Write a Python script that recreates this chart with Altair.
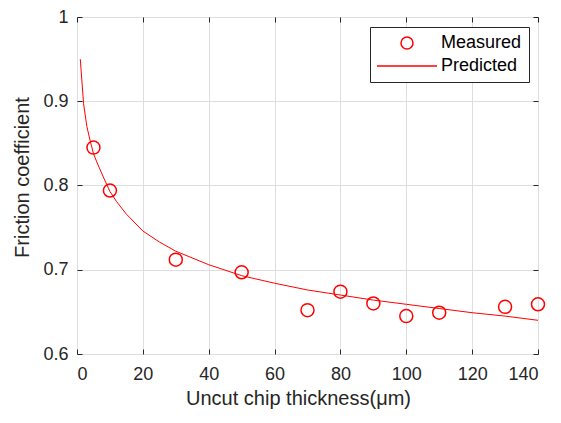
import altair as alt
import pandas as pd

meas_x = [5, 10, 30, 50, 70, 80, 90, 100, 110, 130, 140]
meas_y = [0.845, 0.794, 0.712, 0.697, 0.652, 0.674, 0.660, 0.645, 0.649, 0.656, 0.659]

pred_x = [1, 2, 3, 4, 5, 6, 8, 10, 12, 15, 20, 25, 30, 40, 50, 60, 70, 80, 90, 100, 110, 120, 130, 140]
pred_y = [0.950, 0.897, 0.870, 0.853, 0.838, 0.828, 0.810, 0.793, 0.781, 0.766, 0.746, 0.733,
          0.722, 0.706, 0.693, 0.684, 0.676, 0.670, 0.664, 0.659, 0.654, 0.649, 0.645, 0.640]

x_ticks = [0, 20, 40, 60, 80, 100, 120, 140]
y_ticks = [0.6, 0.7, 0.8, 0.9, 1.0]

meas = pd.DataFrame({"x": meas_x, "y": meas_y, "series": "Measured"})
pred = pd.DataFrame({"x": pred_x, "y": pred_y, "series": "Predicted"})

W, H = 461, 337
PL, PT, PR, PB = 69, 9, 15, 56
FONT = "Liberation Sans"
TXT = "#262626"

xs = alt.Scale(domain=[0, 140], nice=False, zero=False)
ys = alt.Scale(domain=[0.6, 1.0], nice=False, zero=False)

def tick_axis(orient, offset, values):
    return alt.Axis(orient=orient, offset=offset, values=values, labels=False, title=None,
                    domain=False, grid=False, ticks=True, tickSize=5, tickColor=TXT, tickWidth=1)

points = alt.Chart(meas).mark_point(shape="circle", filled=False, size=169, strokeWidth=1.5,
                                    color="#ff0000", opacity=1).encode(
    x=alt.X("x:Q", scale=xs, axis=alt.Axis(values=x_ticks, title="Uncut chip thickness(μm)",
                                           ticks=False, domain=False, grid=True, gridColor="#dedede",
                                           labelFontSize=18, titleFontSize=20, labelColor=TXT,
                                           titleColor=TXT, labelPadding=11, titlePadding=5,
                                           titleX=221, titleAlign="center",
                                           labelFont=FONT, titleFont=FONT, titleFontWeight="normal")),
    y=alt.Y("y:Q", scale=ys, axis=alt.Axis(values=y_ticks, format=".1~f", title="Friction coefficient",
                                           ticks=False, domain=False, grid=True, gridColor="#dedede",
                                           labelFontSize=18, titleFontSize=20, labelColor=TXT,
                                           titleColor=TXT, labelPadding=9, titlePadding=10,
                                           titleY=160, titleAlign="center",
                                           labelFont=FONT, titleFont=FONT, titleFontWeight="normal")),
    shape=alt.Shape("series:N", scale=alt.Scale(domain=["Measured", "Predicted"],
                                                 range=["circle", "M-5,0L5,0"]),
                    legend=alt.Legend(title=None, orient="none", legendX=293, legendY=10,
                                      fillColor="white", strokeColor=TXT, padding=7,
                                      symbolOffset=21,
                                      labelFont=FONT, labelFontSize=18, labelColor="#000000",
                                      symbolStrokeColor="#ff0000", symbolStrokeWidth=1.5,
                                      symbolSize=144, labelOffset=25, rowPadding=5)),
)

line = alt.Chart(pred).mark_line(color="#ff0000", strokeWidth=1).encode(
    x=alt.X("x:Q", scale=xs, axis=tick_axis("top", -H, x_ticks)),
    y=alt.Y("y:Q", scale=ys, axis=tick_axis("right", -W, y_ticks)),
)

ghost = alt.Chart(meas).mark_point(opacity=0).encode(
    x=alt.X("x:Q", scale=xs, axis=tick_axis("bottom", -H, x_ticks)),
    y=alt.Y("y:Q", scale=ys, axis=tick_axis("left", -W, y_ticks)),
)

chart = alt.layer(points, line, ghost).resolve_axis(x="independent", y="independent").properties(
    width=W, height=H, autosize="none",
    padding={"left": PL, "top": PT, "right": PR, "bottom": PB},
).configure_view(stroke=TXT, strokeWidth=1.2).configure(background="white")

chart.save("out.html", embed_options={"renderer": "svg", "actions": False})
